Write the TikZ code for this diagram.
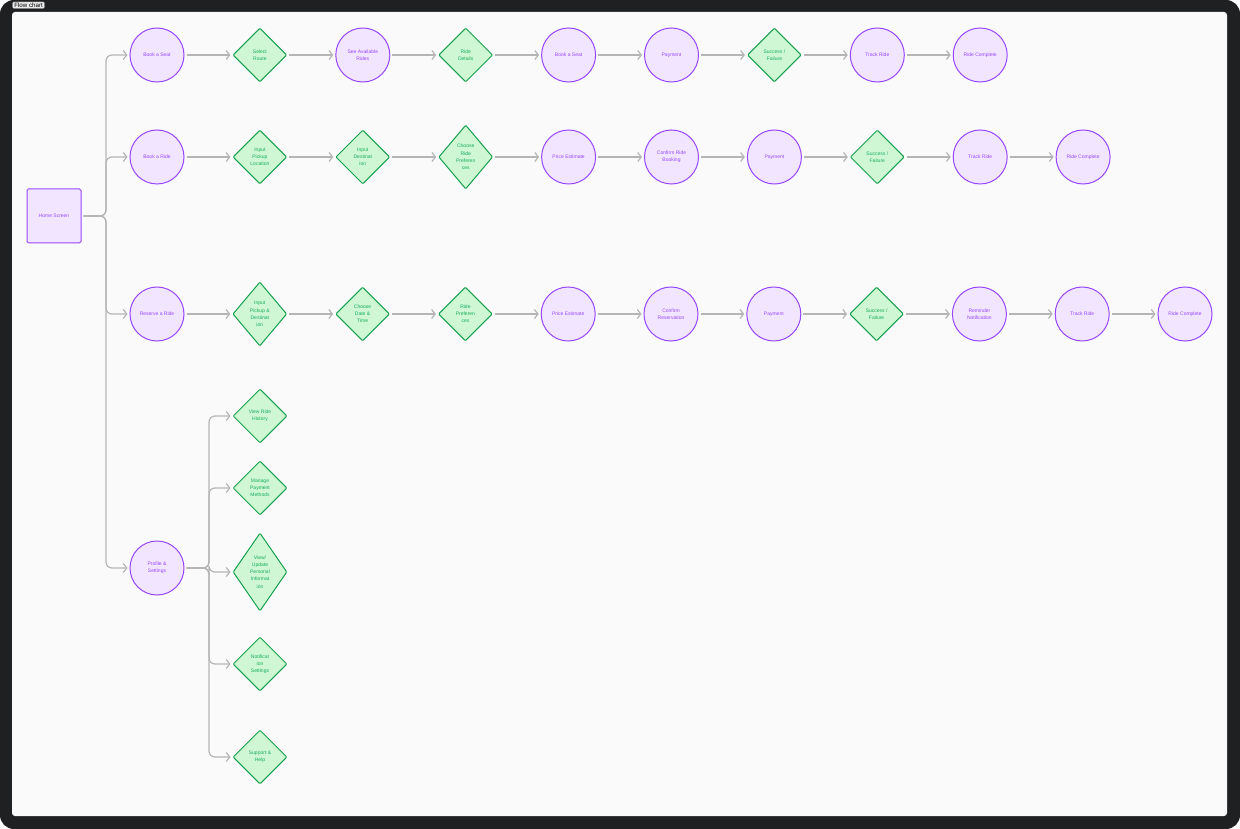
\documentclass[tikz,border=0pt]{standalone}
\usepackage{fontspec}
\setmainfont{Liberation Sans}
\usepackage{tikz}
\usetikzlibrary{positioning,arrows.meta,shapes.geometric}
\definecolor{frame}{HTML}{1F2022}
\definecolor{pane}{HTML}{FAFAFA}
\definecolor{fPurple}{HTML}{9747FF}
\definecolor{fLilac}{HTML}{F2E5FF}
\definecolor{fGreen}{HTML}{14A04F}
\definecolor{fLeaf}{HTML}{14AE5C}
\definecolor{fMint}{HTML}{CFF7D3}
\definecolor{wire}{HTML}{B5B5B5}
\tikzset{
  txt/.style={font=\fontsize{5}{7.2}\selectfont, align=center},
  bub/.style={circle, draw=fPurple, fill=fLilac, line width=1pt, minimum size=54pt, inner sep=0pt, txt, text=fPurple},
  dmd/.style={diamond, draw=fGreen, fill=fMint, line width=1pt, rounded corners=1pt, minimum width=54pt, minimum height=54pt, inner sep=0pt, txt, text=fLeaf},
  dmdh/.style={dmd, minimum height=64pt, shape aspect=0.8},
  flow/.style={-{Straight Barb[length=3.5pt,width=9pt]}, wire, line width=1.2pt, rounded corners=6pt, shorten >=2pt, shorten <=2pt},
}

\begin{document}
\begin{tikzpicture}[x=1pt, y=-1pt]
\useasboundingbox (0,0) rectangle (1240,829);
\fill[frame, rounded corners=14pt] (0,0) rectangle (1240,829);
\fill[pane, rounded corners=3pt] (12,12) rectangle (1227,816);
\node[fill=black!8, draw=black!30, line width=0.3pt, rounded corners=1pt, inner xsep=1.6pt, inner ysep=0.9pt, anchor=north west, font=\fontsize{6.2}{7}\selectfont] (tab) at (12.5,1.8) {Flow chart};
\node[rectangle, draw=fPurple, fill=fLilac, line width=1pt, rounded corners=1.5pt, minimum size=54pt, txt, text=fPurple] (home) at (54,216) {Home Screen};
% book a seat
\foreach \s/\t [count=\i] in {bub/Book a Seat, dmd/Select\\Route, bub/See Available\\Rides, dmd/Ride\\Details, bub/Book a Seat, bub/Payment, dmd/Success {/}\\Failure, bub/Track Ride, bub/Ride Complete}
  \node[\s] (seat\i) at ({157+102.9*(\i-1)},55) {\t};
\foreach \i [remember=\i as \p (initially 1)] in {2,...,9}
  \draw[flow] (seat\p.east) -- (seat\i.west);
% book a ride
\foreach \s/\t [count=\i] in {bub/Book a Ride, dmd/Input\\Pickup\\Location, dmd/Input\\Destinat\\ion, dmdh/Choose\\Ride\\Preferen\\ces, bub/Price Estimate, bub/Confirm Ride\\Booking, bub/Payment, dmd/Success {/}\\Failure, bub/Track Ride, bub/Ride Complete}
  \node[\s] (ride\i) at ({157+102.9*(\i-1)},157) {\t};
\foreach \i [remember=\i as \p (initially 1)] in {2,...,10}
  \draw[flow] (ride\p.east) -- (ride\i.west);
% reserve a ride
\foreach \s/\t [count=\i] in {bub/Reserve a Ride, dmdh/Input\\Pickup \&\\Destinat\\ion, dmd/Choose\\Date \&\\Time, dmd/Ride\\Preferen\\ces, bub/Price Estimate, bub/Confirm\\Reservation, bub/Payment, dmd/Success {/}\\Failure, bub/Reminder\\Notification, bub/Track Ride, bub/Ride Complete}
  \node[\s] (resv\i) at ({157+102.8*(\i-1)},314) {\t};
\foreach \i [remember=\i as \p (initially 1)] in {2,...,11}
  \draw[flow] (resv\p.east) -- (resv\i.west);
% profile
\node[bub] (prof) at (157,568) {Profile \&\\Settings};
\node[dmd] (opt1) at (260,416) {View Ride\\History};
\node[dmd] (opt2) at (260,488) {Manage\\Payment\\Methods};
\node[dmd, minimum height=78pt, shape aspect=0.6] (opt3) at (260,572) {View/\\Update\\Personal\\Informat\\ion};
\node[dmd] (opt4) at (260,664) {Notificat\\ion\\Settings};
\node[dmd] (opt5) at (260,757) {Support \&\\Help};
\coordinate (hub) at (106,216);
\coordinate (hub2) at (209,568);
\foreach \n in {seat1,ride1,resv1,prof}
  \draw[flow] (home.east) -- (hub) |- (\n.west);
\foreach \n in {opt1,opt2,opt3,opt4,opt5}
  \draw[flow] (prof.east) -- (hub2) |- (\n.west);
\end{tikzpicture}
\end{document}
